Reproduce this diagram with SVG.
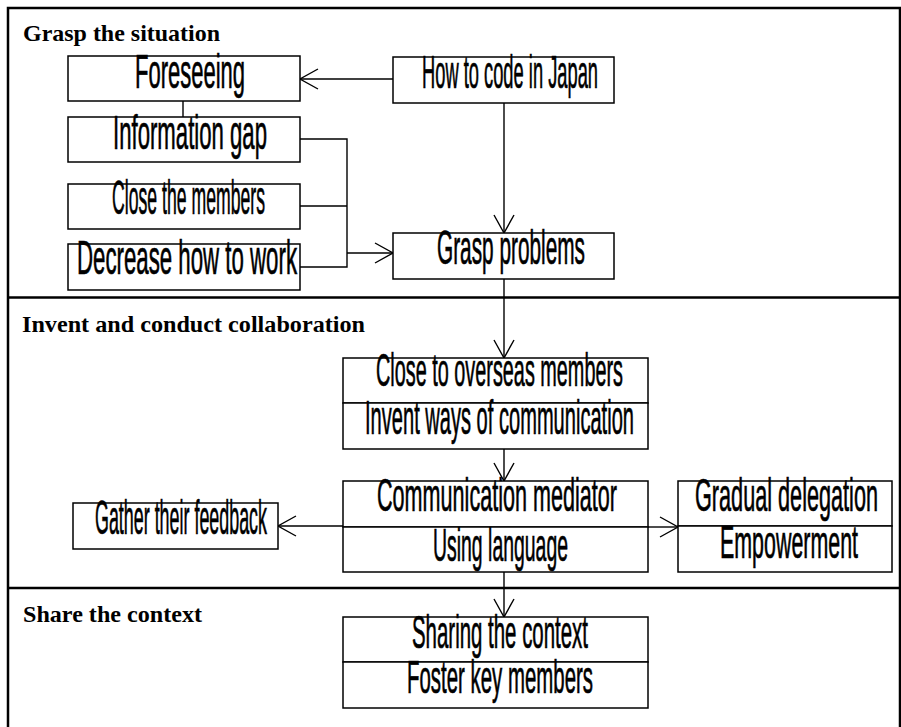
<svg xmlns="http://www.w3.org/2000/svg" width="901" height="727" viewBox="0 0 901 727">
<style>
.frame{fill:none;stroke:#000;stroke-width:2.5}
.sep{stroke:#000;stroke-width:2.5}
.box{fill:#fff;stroke:#000;stroke-width:1.5}
.lbl{font-family:"Liberation Serif","Times New Roman",serif;font-weight:bold;font-size:24px;fill:#000}
.t{font-family:"Liberation Sans",Arial,sans-serif;fill:#000;stroke:#000;stroke-width:0.7}
.c{fill:none;stroke:#000;stroke-width:1.4}
.a{fill:none;stroke:#000;stroke-width:1.4;marker-end:url(#arr)}
</style>
<defs>
<marker id="arr" markerUnits="userSpaceOnUse" markerWidth="20" markerHeight="22" viewBox="-1 -1 20 22" refX="18" refY="10" orient="auto">
<path d="M0,0 L18,10 L0,20" fill="none" stroke="#000" stroke-width="1.4"/>
</marker>
</defs>
<rect width="901" height="727" fill="#fff"/>
<rect class="frame" x="8" y="8" width="892" height="740"/>
<line class="sep" x1="8" y1="297.5" x2="901" y2="297.5"/>
<line class="sep" x1="8" y1="588" x2="901" y2="588"/>
<text class="lbl" x="23" y="41" textLength="197" lengthAdjust="spacingAndGlyphs">Grasp the situation</text>
<text class="lbl" x="22" y="332" textLength="343" lengthAdjust="spacingAndGlyphs">Invent and conduct collaboration</text>
<text class="lbl" x="23" y="622" textLength="179" lengthAdjust="spacingAndGlyphs">Share the context</text>
<g id="connectors">
<path class="a" d="M393,79 H300"/>
<path class="a" d="M504,103 V233"/>
<path class="c" d="M183,101 V117"/>
<path class="c" d="M300,139 H347 V267 H300 M300,206 H347"/>
<path class="a" d="M347,253 H393"/>
<path class="a" d="M504,279 V358"/>
<path class="a" d="M504,449 V481"/>
<path class="a" d="M343,526 H278"/>
<path class="a" d="M648,527 H678"/>
<path class="a" d="M504,572 V617"/>
</g>
<g id="n-foreseeing"><rect class="box" x="68" y="56" width="232" height="45"/><text class="t" x="135" y="88" font-size="48" textLength="110" lengthAdjust="spacingAndGlyphs">Foreseeing</text></g>
<g id="n-howto"><rect class="box" x="393" y="57" width="221" height="46"/><text class="t" x="422" y="88" font-size="46" textLength="176" lengthAdjust="spacingAndGlyphs">How to code in Japan</text></g>
<g id="n-infogap"><rect class="box" x="68" y="117" width="232" height="45"/><text class="t" x="113" y="149" font-size="49" textLength="154" lengthAdjust="spacingAndGlyphs">Information gap</text></g>
<g id="n-closemembers"><rect class="box" x="68" y="184" width="232" height="45"/><text class="t" x="112" y="214" font-size="48" textLength="153" lengthAdjust="spacingAndGlyphs">Close the members</text></g>
<g id="n-decrease"><rect class="box" x="68" y="244" width="232" height="46"/><text class="t" x="77" y="274" font-size="49" textLength="220" lengthAdjust="spacingAndGlyphs">Decrease how to work</text></g>
<g id="n-grasp"><rect class="box" x="393" y="233" width="221" height="46"/><text class="t" x="437" y="264" font-size="48" textLength="148" lengthAdjust="spacingAndGlyphs">Grasp problems</text></g>
<g id="n-overseas"><rect class="box" x="343" y="358" width="305" height="45"/><text class="t" x="376" y="386" font-size="47" textLength="247" lengthAdjust="spacingAndGlyphs">Close to overseas members</text></g>
<g id="n-invent"><rect class="box" x="343" y="403" width="305" height="46"/><text class="t" x="365" y="434" font-size="48" textLength="269" lengthAdjust="spacingAndGlyphs">Invent ways of communication</text></g>
<g id="n-mediator"><rect class="box" x="343" y="481" width="305" height="46"/><text class="t" x="377" y="511" font-size="47" textLength="240" lengthAdjust="spacingAndGlyphs">Communication mediator</text></g>
<g id="n-language"><rect class="box" x="343" y="527" width="305" height="45"/><text class="t" x="433" y="561" font-size="46" textLength="135" lengthAdjust="spacingAndGlyphs">Using language</text></g>
<g id="n-feedback"><rect class="box" x="73" y="503" width="205" height="46"/><text class="t" x="95" y="534" font-size="49" textLength="172" lengthAdjust="spacingAndGlyphs">Gather their feedback</text></g>
<g id="n-delegation"><rect class="box" x="678" y="481" width="214" height="45"/><text class="t" x="695" y="511" font-size="47" textLength="183" lengthAdjust="spacingAndGlyphs">Gradual delegation</text></g>
<g id="n-empowerment"><rect class="box" x="678" y="526" width="214" height="46"/><text class="t" x="720" y="558" font-size="47" textLength="138" lengthAdjust="spacingAndGlyphs">Empowerment</text></g>
<g id="n-sharing"><rect class="box" x="343" y="617" width="305" height="45"/><text class="t" x="412" y="648" font-size="47" textLength="176" lengthAdjust="spacingAndGlyphs">Sharing the context</text></g>
<g id="n-foster"><rect class="box" x="343" y="662" width="305" height="46"/><text class="t" x="407" y="693" font-size="46" textLength="186" lengthAdjust="spacingAndGlyphs">Foster key members</text></g>
</svg>
